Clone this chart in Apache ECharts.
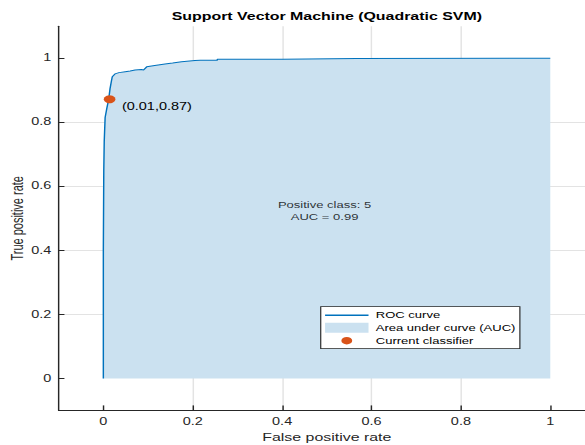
<!DOCTYPE html>
<html>
<head>
<meta charset="utf-8">
<script src="https://cdn.jsdelivr.net/npm/echarts@6/dist/echarts.min.js"></script>
<style>
  html, body { margin: 0; padding: 0; background: #fff; overflow: hidden; width: 585px; height: 445px; }
  #chart { width: 404px; height: 445px; transform: scaleX(1.448); transform-origin: 0 0; }
</style>
</head>
<body>
<div id="chart"></div>
<script>
// ROC curve (false positive rate, true positive rate)
const rocFpr = [0, 0, 0.001, 0.002, 0.004, 0.008, 0.012, 0.015, 0.018, 0.020, 0.026, 0.035, 0.049, 0.060, 0.071, 0.085, 0.090, 0.097, 0.115, 0.138, 0.155, 0.175, 0.205, 0.217, 0.255, 0.255, 0.40, 0.40, 0.567, 0.567, 1];
const rocTpr = [0, 0.40, 0.65, 0.74, 0.815, 0.845, 0.872, 0.905, 0.928, 0.942, 0.951, 0.955, 0.958, 0.960, 0.963, 0.965, 0.963, 0.973, 0.977, 0.982, 0.985, 0.989, 0.993, 0.994, 0.994, 0.997, 0.997, 0.999, 0.999, 1, 1];
// Current classifier operating point
const classifierPoint = [0.014, 0.872];
// Annotation
const positiveClass = '5';
const aucValue = 0.99;
const annotationPos = [0.495, 0.524];
// Axis ticks
const xTicks = [0, 0.2, 0.4, 0.6, 0.8, 1];
const yTicks = [0, 0.2, 0.4, 0.6, 0.8, 1];
const titleText = 'Support Vector Machine (Quadratic SVM)';
const xName = 'False positive rate';
const yName = 'True positive rate';
const legendNames = ['ROC curve', 'Area under curve (AUC)', 'Current classifier'];

const FONT = 'Liberation Sans, Arial, Helvetica, sans-serif';
const rocData = rocFpr.map((x, i) => [x, rocTpr[i]]);
const fmt = v => String(Math.round(v * 10) / 10);
const isTick = (arr, v) => arr.some(t => Math.abs(t - v) < 1e-6);

const chart = echarts.init(document.getElementById('chart'), null, { renderer: 'svg' });
chart.setOption({
  animation: false,
  backgroundColor: '#fff',
  title: {
    text: titleText,
    left: 225.7,
    top: 11,
    textAlign: 'center',
    padding: 0,
    textStyle: { fontFamily: FONT, fontSize: 11, fontWeight: 'bold', color: '#000' }
  },
  grid: { left: 40.5, top: 26.2, width: 370.4, height: 384.2, containLabel: false, outerBoundsMode: 'none' },
  xAxis: {
    type: 'value', min: -0.1, max: 1.1, splitNumber: 6,
    name: xName, nameLocation: 'middle', nameGap: 21.5, nameMoveOverlap: false,
    nameTextStyle: { fontFamily: FONT, fontSize: 11, color: '#262626' },
    axisLine: { show: true, onZero: false, lineStyle: { color: '#262626', width: 1 } },
    axisTick: { show: true, inside: true, length: 5, lineStyle: { color: '#262626' }, customValues: xTicks },
    axisLabel: { fontFamily: FONT, fontSize: 10, color: '#262626', margin: 6, customValues: xTicks,
      formatter: v => isTick(xTicks, v) ? fmt(v) : '' },
    splitLine: { show: true, showMinLine: false, showMaxLine: false, lineStyle: { color: '#e3e3e3', width: 1 } }
  },
  yAxis: {
    type: 'value', min: -0.1, max: 1.1, splitNumber: 6,
    name: yName, nameLocation: 'middle', nameGap: 23, nameMoveOverlap: false,
    nameTextStyle: { fontFamily: FONT, fontSize: 11, color: '#262626' },
    axisLine: { show: true, onZero: false, lineStyle: { color: '#262626', width: 1 } },
    axisTick: { show: true, inside: true, length: 4, lineStyle: { color: '#262626' }, customValues: yTicks },
    axisLabel: { fontFamily: FONT, fontSize: 10, color: '#262626', margin: 5, customValues: yTicks,
      formatter: v => isTick(yTicks, v) ? fmt(v) : '' },
    splitLine: { show: true, showMinLine: false, showMaxLine: false, lineStyle: { color: '#e3e3e3', width: 1 } }
  },
  legend: {
    orient: 'vertical',
    left: 221.5, top: 306.7,
    itemWidth: 30, itemHeight: 10, itemGap: 3,
    padding: [4, 3, 3, 3],
    backgroundColor: '#fff',
    borderColor: '#262626', borderWidth: 0.8, borderRadius: 0,
    selectedMode: false,
    itemStyle: { borderWidth: 0 },
    textStyle: { fontFamily: FONT, fontSize: 9, color: '#000' },
    data: [
      { name: legendNames[0], icon: 'path://M0,0H30V1.4H0Z' },
      { name: legendNames[1], icon: 'rect' },
      { name: legendNames[2], icon: 'path://M0,0M30,10M11.25,5A3.75,3.75 0 1,0 18.75,5A3.75,3.75 0 1,0 11.25,5Z' }
    ]
  },
  series: [
    {
      name: legendNames[1], type: 'line', data: rocData, showSymbol: false, symbol: 'none',
      itemStyle: { color: '#cbe1f0' },
      lineStyle: { width: 0, opacity: 0 },
      areaStyle: { color: '#cbe1f0', opacity: 1 },
      silent: true, z: 1
    },
    {
      name: legendNames[0], type: 'line', data: rocData, showSymbol: false, symbol: 'none',
      itemStyle: { color: '#0072BD' },
      lineStyle: { color: '#0072BD', width: 1 },
      silent: true, z: 2
    },
    {
      name: legendNames[2], type: 'scatter', data: [classifierPoint], symbol: 'circle', symbolSize: 8,
      itemStyle: { color: '#D95319', opacity: 1 }, silent: true, z: 4,
      label: {
        show: true, position: 'right', distance: 4.5, offset: [0, 7.4],
        fontFamily: FONT, fontSize: 10, color: '#000',
        formatter: p => '(' + p.value[0].toFixed(2) + ',' + p.value[1].toFixed(2) + ')'
      }
    },
    {
      name: 'annotation', type: 'scatter', data: [annotationPos], symbolSize: 1,
      itemStyle: { color: 'rgba(0,0,0,0)' }, silent: true, z: 3,
      label: {
        show: true, position: 'inside', align: 'center', verticalAlign: 'middle',
        fontFamily: FONT, fontSize: 9, lineHeight: 11.5, color: '#000',
        formatter: () => 'Positive class: ' + positiveClass + '\nAUC = ' + aucValue.toFixed(2)
      }
    }
  ]
});
</script>
</body>
</html>
